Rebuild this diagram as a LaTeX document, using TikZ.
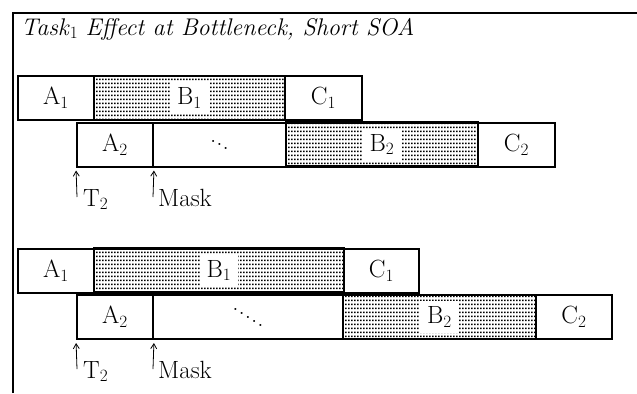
\documentclass[tikz,border=0pt]{standalone}
\usetikzlibrary{patterns,arrows.meta}
\pgfdeclarepatternformonly{bdots}{\pgfpointorigin}{\pgfpoint{3bp}{4bp}}{\pgfpoint{3bp}{4bp}}{%
  \pgfpathrectangle{\pgfpoint{0bp}{1bp}}{\pgfpoint{2bp}{2bp}}%
  \pgfusepath{fill}}
\newcommand{\threedots}{\raisebox{7pt}{.}\raisebox{3.5pt}{.}\raisebox{0pt}{.}}
\newcommand{\fivedots}{\raisebox{16pt}{.}\raisebox{12pt}{.}\raisebox{8pt}{.}\raisebox{4pt}{.}\raisebox{0pt}{.}}
\tikzset{
  cell/.style={draw, line width=2bp, inner sep=0pt, minimum height=44bp},
  bcell/.style={cell, line width=2.6bp, pattern=bdots},
  blabel/.style={fill=white, inner xsep=7bp, inner ysep=0pt, minimum height=32bp},
  arr/.style={line width=0.8bp, -{Straight Barb[length=5bp,width=6bp]}, shorten >=3bp},
  tag/.style={anchor=base west, inner sep=0pt},
  frame/.style={line width=2bp}
}
\begin{document}
\begin{tikzpicture}[x=1bp,y=-1bp,font=\fontsize{25}{30}\selectfont]
\useasboundingbox (0,0) rectangle (637,393);
% frame
\coordinate (fbl) at (12.7,393);
\coordinate (ftl) at (12.7,12.7);
\coordinate (ftr) at (637,12.7);
\draw[frame] (fbl) -- (ftl) -- (ftr);
\node[anchor=base west, inner sep=0pt, font=\fontsize{24.2}{29}\selectfont] (title) at (21,35) {\textit{Task}$_1$ \textit{Effect at Bottleneck, Short SOA}};

% ---------- diagram 1 ----------
\node[cell, minimum width=76bp] (a1) at (56,98) {A$_1$};
\node[bcell, minimum width=191bp] (b1) at (189.5,98) {};
\node[blabel] (b1t) at (b1.center) {B$_1$};
\node[cell, minimum width=77bp] (c1) at (323.5,98) {C$_1$};

\node[cell, minimum width=76bp] (a2) at (115,144.5) {A$_2$};
\node[cell, minimum width=133bp] (d1) at (219.5,144.5) {\threedots};
\node[bcell, minimum width=192bp] (b2) at (382,144.5) {};
\node[blabel] (b2t) at (b2.center) {B$_2$};
\node[cell, minimum width=77bp] (c2) at (516.5,144.5) {C$_2$};

\coordinate (t2f) at (77,197);
\coordinate (mkf) at (153,197);
\draw[arr] (t2f) -- (a2.south west);
\draw[arr] (mkf) -- (a2.south east);
\node[tag] (t2) at (83,206) {T$_2$};
\node[tag] (mk) at (158,206) {Mask};

% ---------- diagram 2 ----------
\node[cell, minimum width=76bp] (aa1) at (56,270.5) {A$_1$};
\node[bcell, minimum width=250bp] (bb1) at (219,270.5) {};
\node[blabel] (bb1t) at (bb1.center) {B$_1$};
\node[cell, minimum width=75bp] (cc1) at (381.5,270.5) {C$_1$};

\node[cell, minimum width=76bp] (aa2) at (115,317) {A$_2$};
\node[cell, minimum width=190bp] (dd2) at (248,317) {\fivedots};
\node[bcell, minimum width=193bp] (bb2) at (439.5,317) {};
\node[blabel] (bb2t) at (bb2.center) {B$_2$};
\node[cell, minimum width=76bp] (cc2) at (574,317) {C$_2$};

\coordinate (tt2f) at (77,369);
\coordinate (mmkf) at (153,369);
\draw[arr] (tt2f) -- (aa2.south west);
\draw[arr] (mmkf) -- (aa2.south east);
\node[tag] (tt2) at (83,378) {T$_2$};
\node[tag] (mmk) at (158,378) {Mask};
\end{tikzpicture}
\end{document}
